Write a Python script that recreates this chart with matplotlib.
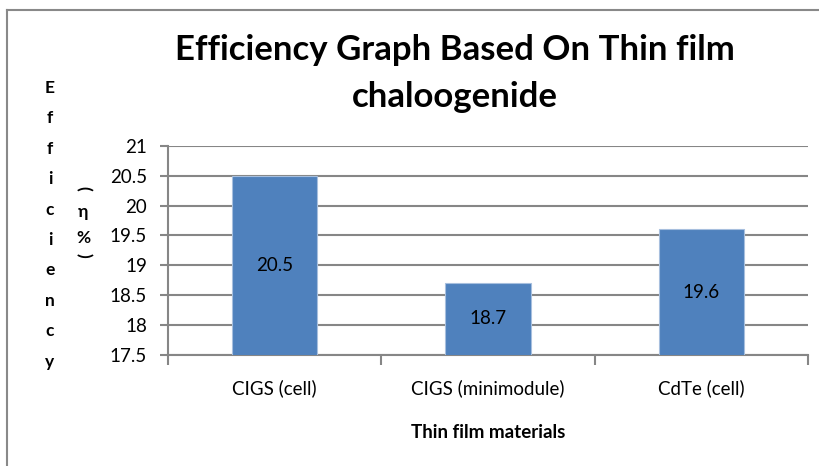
import matplotlib
matplotlib.use('Agg')
import matplotlib.pyplot as plt
from matplotlib.lines import Line2D

plt.rcParams['font.family'] = ['Lato', 'DejaVu Sans']

# Данные
materials = ['CIGS (cell)', 'CIGS (minimodule)', 'CdTe (cell)']
efficiency = [20.5, 18.7, 19.6]
yticks = [17.5, 18, 18.5, 19, 19.5, 20, 20.5, 21]
ylabel_chars = list('Efficiency')

# Стиль
barcolor = '#4F81BD'
gridcolor = '#868686'
textcolor = '#000000'

fig = plt.figure(figsize=(8.19, 4.66), dpi=100)
ax = fig.add_axes([168 / 819, 1 - 354.7 / 466, 640 / 819, (354.7 - 146) / 466])

x = list(range(len(materials)))
ax.bar(x, efficiency, width=0.4, color=barcolor, edgecolor='#A7BFDE',
       linewidth=0.8, zorder=3, bottom=0)
ax.set_xlim(-0.5, len(materials) - 0.5)
ax.set_ylim(17.5, 21)
ax.set_yticks(yticks)
ax.set_yticklabels([f'{v:g}' for v in yticks], fontsize=13.5)
ax.set_xticks([i - 0.5 for i in range(len(materials) + 1)])
ax.set_xticklabels([])
ax.set_xticks(x, minor=True)
ax.set_xticklabels(materials, minor=True, fontsize=13.5)
ax.tick_params(axis='x', which='minor', length=0, pad=18)
ax.tick_params(axis='x', which='major', length=7, color=gridcolor, width=1.5)
ax.tick_params(axis='y', length=6, color=gridcolor, width=1.5, pad=9)

for s in ['top', 'right']:
    ax.spines[s].set_visible(False)
for s in ['left', 'bottom']:
    ax.spines[s].set_color(gridcolor)
    ax.spines[s].set_linewidth(1.5)
ax.yaxis.grid(True, color=gridcolor, linewidth=1.5, zorder=0)
ax.set_axisbelow(True)

for i, v in enumerate(efficiency):
    ax.text(i, (v + 17.5) / 2, f'{v:g}', ha='center', va='center', fontsize=13.5,
            color=textcolor, zorder=4)

# Заголовок
fig.text(455 / 819, 1 - 50 / 466, 'Efficiency Graph Based On Thin film',
         ha='center', va='center', fontsize=25, fontweight='bold')
fig.text(455 / 819, 1 - 97 / 466, 'chaloogenide',
         ha='center', va='center', fontsize=25, fontweight='bold')

# Подпись оси Y (вертикально по буквам)
for k, ch in enumerate(ylabel_chars):
    fig.text(50 / 819, 1 - (88 + k * 30.4) / 466, ch, ha='center', va='center',
             fontsize=12.5, fontweight='bold')
fig.text(83 / 819, 1 - 188 / 466, '(', ha='center', va='center', fontsize=12.5,
         fontweight='bold', rotation=-90)
fig.text(83 / 819, 1 - 212 / 466, 'η', ha='center', va='center', fontsize=12.5,
         fontweight='bold')
fig.text(83 / 819, 1 - 238 / 466, '%', ha='center', va='center', fontsize=12.5,
         fontweight='bold')
fig.text(83 / 819, 1 - 255 / 466, ')', ha='center', va='center', fontsize=12.5,
         fontweight='bold', rotation=-90)

# Подпись оси X
fig.text(488 / 819, 1 - 432 / 466, 'Thin film materials', ha='center',
         va='center', fontsize=13.5, fontweight='bold')

# Рамка
fig.add_artist(Line2D([7 / 819, 7 / 819], [0, 1 - 10 / 466], color='#898989',
                      linewidth=1.5, transform=fig.transFigure))
fig.add_artist(Line2D([7 / 819, 1], [1 - 10 / 466, 1 - 10 / 466], color='#898989',
                      linewidth=1.5, transform=fig.transFigure))

plt.savefig('out.png', dpi=100)
plt.close()
